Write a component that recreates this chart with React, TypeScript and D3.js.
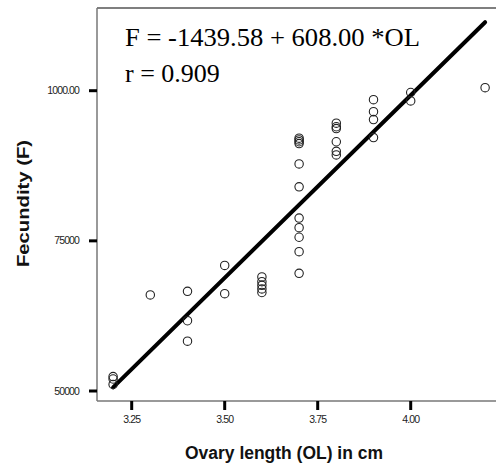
import React from 'react';
import * as d3 from 'd3';

// ovary length (cm) and fecundity
const ovaryLength = [
  3.2, 3.2, 3.2,
  3.3,
  3.4, 3.4, 3.4,
  3.5, 3.5,
  3.6, 3.6, 3.6, 3.6, 3.6,
  3.7, 3.7, 3.7, 3.7, 3.7, 3.7, 3.7, 3.7, 3.7, 3.7, 3.7,
  3.8, 3.8, 3.8, 3.8, 3.8, 3.8,
  3.9, 3.9, 3.9, 3.9,
  4.0, 4.0,
  4.2,
];
const fecundity = [
  52400, 52000, 51100,
  66000,
  66600, 61700, 58300,
  70900, 66200,
  69000, 68200, 67600, 67000, 66400,
  92100, 91800, 91500, 91200, 87800, 84000, 78800, 77200, 75600, 73200, 69600,
  94600, 94000, 93700, 91500, 89900, 89300,
  98500, 96500, 95200, 92200,
  99700, 98300,
  100500,
];
const xTicks = [3.25, 3.5, 3.75, 4.0];
const xTickLabels = ['3.25', '3.50', '3.75', '4.00'];
const yTicks = [50000, 75000, 100000];
const yTickLabels = ['50000', '75000', '1000.00'];
const intercept = -143958;
const slope = 60800;
const fitRange = [3.2, 4.2];
const equationText = 'F = -1439.58 + 608.00 *OL';
const rText = 'r = 0.909';

const W = 496;
const H = 466;
const left = 97;
const right = 496;
const top = 8;
const bottom = 401;

export default function App() {
  const x = d3.scaleLinear().domain([3.25, 4.0]).range([131.7, 410.7]);
  const y = d3.scaleLinear().domain([50000, 100000]).range([391, 90.7]);

  const fit = d3.line<number>()
    .x((d) => x(d))
    .y((d) => y(intercept + slope * d));

  const sans = 'Liberation Sans, Arial, sans-serif';
  const serif = 'Liberation Serif, Times New Roman, serif';

  return (
    <svg width={W} height={H} style={{ position: 'absolute', left: 0, top: 0 }}>
      <rect width={W} height={H} fill="#fff" />
      {/* frame */}
      <line x1={left} x2={right} y1={top} y2={top} stroke="#555" strokeWidth={1.5} />
      <line x1={left} x2={left} y1={top} y2={bottom} stroke="#777" strokeWidth={1.5} />
      <line x1={left} x2={right} y1={bottom} y2={bottom} stroke="#777" strokeWidth={1.5} />

      {/* y axis */}
      {yTicks.map((t, i) => (
        <g key={t}>
          <line x1={89} x2={left} y1={y(t)} y2={y(t)} stroke="#000" strokeWidth={3} />
          <text x={79} y={y(t) + 3.5} textAnchor="end" fontFamily={sans} fontSize={10.5}
            letterSpacing={-0.9} fill="#222">{yTickLabels[i]}</text>
        </g>
      ))}
      {/* x axis */}
      {xTicks.map((t, i) => (
        <g key={t}>
          <line x1={x(t)} x2={x(t)} y1={bottom} y2={410} stroke="#000" strokeWidth={3} />
          <text x={x(t)} y={423} textAnchor="middle" fontFamily={sans} fontSize={10.5}
            letterSpacing={-0.9} fill="#222">{xTickLabels[i]}</text>
        </g>
      ))}

      {/* axis titles */}
      <text x={284} y={459} textAnchor="middle" fontFamily={sans} fontWeight="bold" fontSize={17.5}
        textLength={198} lengthAdjust="spacingAndGlyphs" fill="#111">Ovary length (OL) in cm</text>
      <text transform="translate(29,203.5) rotate(-90)" textAnchor="middle" fontFamily={sans}
        fontWeight="bold" fontSize={17} textLength={127} lengthAdjust="spacingAndGlyphs"
        fill="#111">Fecundity (F)</text>

      {/* fit line */}
      <path d={fit(fitRange) ?? ''} fill="none" stroke="#000" strokeWidth={4} strokeLinecap="round" />

      {/* points */}
      {ovaryLength.map((ol, i) => (
        <circle key={i} cx={x(ol)} cy={y(fecundity[i])} r={4.2} fill="none" stroke="#222" strokeWidth={1.1} />
      ))}

      {/* equation */}
      <text x={125} y={45.5} fontFamily={serif} fontSize={26} textLength={295}
        lengthAdjust="spacingAndGlyphs" fill="#000">{equationText}</text>
      <text x={125} y={82} fontFamily={serif} fontSize={26} fill="#000">{rText}</text>
    </svg>
  );
}
